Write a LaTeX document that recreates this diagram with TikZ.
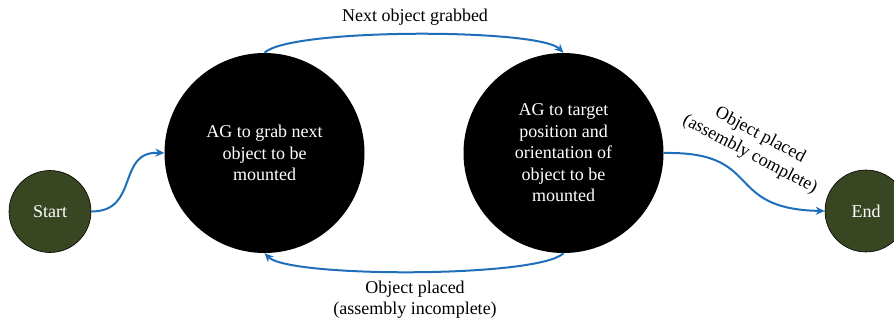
\documentclass[tikz,border=0pt]{standalone}
\usepackage{fontspec}
\setmainfont{Liberation Serif}
\usetikzlibrary{arrows.meta}
\definecolor{flowblue}{RGB}{30,110,186}
\definecolor{termgreen}{RGB}{56,70,34}
\tikzset{
  terminal/.style={circle, draw=black, line width=0.6pt, fill=termgreen,
    minimum size=82pt, inner sep=0pt, text=white, font=\fontsize{18}{21.5}\selectfont},
  statenode/.style={circle, fill=black, minimum size=200pt, inner sep=0pt,
    text=white, align=center, font=\fontsize{18}{21.5}\selectfont},
  flow/.style={draw=flowblue, line width=2pt, -{Stealth[length=9pt,width=8pt]}},
  caption/.style={align=center, font=\fontsize{18}{21.5}\selectfont}
}
\begin{document}
\begin{tikzpicture}[x=1pt,y=-1pt]
  \useasboundingbox (0,0) rectangle (894,325);

  \node[terminal] (start) at (50,211.5) {Start};
  \node[terminal] (end) at (866,211) {End};
  \node[statenode] (grab) at (264.5,153) {AG to grab next\\object to be\\mounted};
  \node[statenode] (target) at (563.5,153) {AG to target\\position and\\orientation of\\object to be\\mounted};

  \node[caption] (lblgrab) at (415,17) {Next object grabbed};
  \node[caption] (lblinc) at (415,299.5) {Object placed\\(assembly incomplete)};
  \node[caption, rotate=-28] (lblcomp) at (755,145) {Object placed\\(assembly complete)};

  \draw[flow] (start.east) .. controls (140,211.5) and (116,151) .. (grab.west);
  \draw[flow] (grab.north) to[out=45,in=135,looseness=0.3] (target.north);
  \draw[flow] (target.south) to[out=-135,in=-45,looseness=0.3] (grab.south);
  \draw[flow] (target.east) .. controls (765,151) and (722,209) .. (end.west);
\end{tikzpicture}
\end{document}
